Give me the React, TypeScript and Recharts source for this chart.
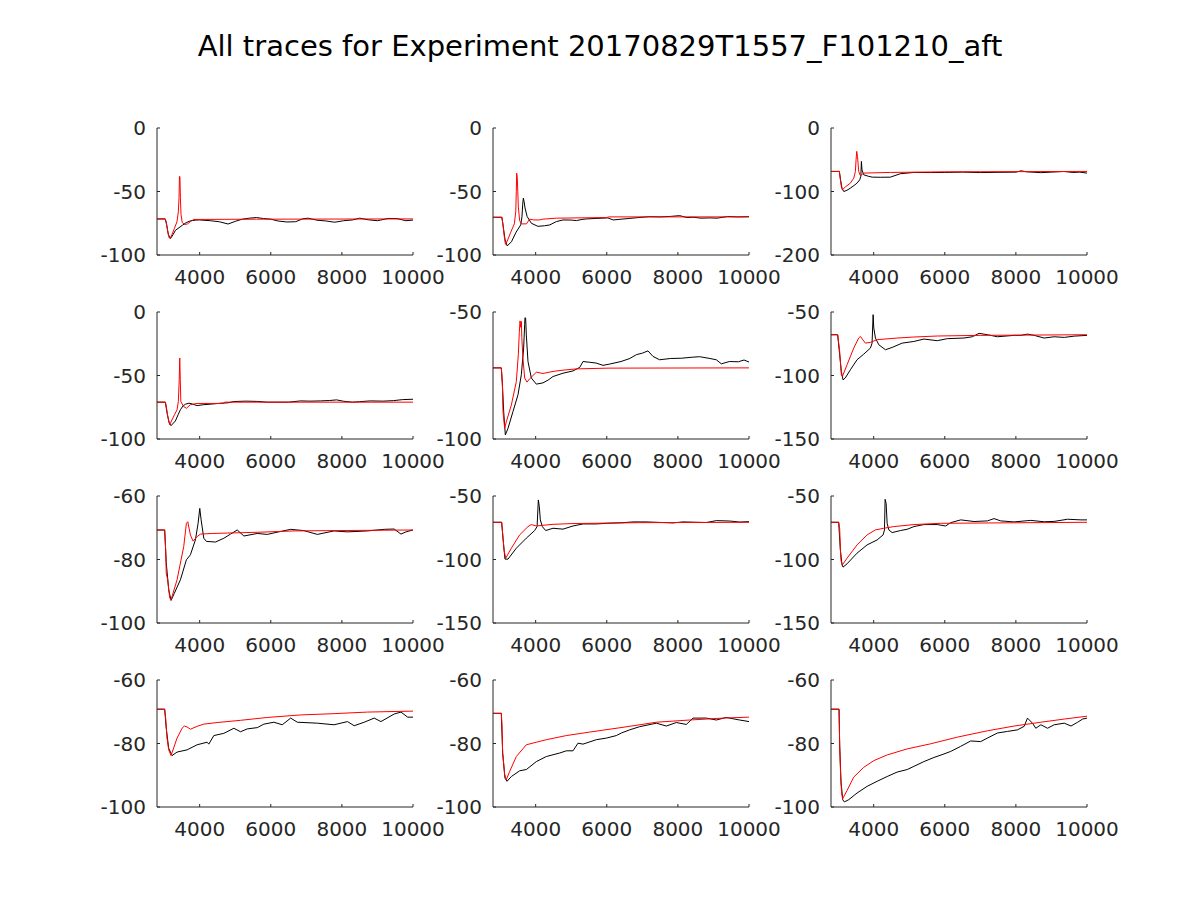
import { LineChart, Line, XAxis, YAxis } from "recharts";

const FONT = "'DejaVu Sans', sans-serif";
const INK = "#262626";
const TICK_FONT = 20;

// plot geometry (matches the 4x3 subplot grid)
const PLOT_W = 256;
const PLOT_H = 127;
const AXIS_W = 70;
const TOP = 24;
const RIGHT = 40;
const XAXIS_H = 40;
const COL_LEFT = [157, 493, 831];
const ROW_TOP = [128, 312, 496, 680];

const TITLE = "All traces for Experiment 20170829T1557_F101210_aft";

const xDomain: [number, number] = [2800, 10000];
const xTicks = [4000, 6000, 8000, 10000];

const yTicks0to100 = [-100, -50, 0];
const yTicks0to200 = [-200, -100, 0];
const yTicks50to100 = [-100, -50];
const yTicks50to150 = [-150, -100, -50];
const yTicks60to100 = [-100, -80, -60];

// recorded (black) and model (red) traces, [time, mV]
const rec1 = [[2800,-71.6],[3030,-71.6],[3070,-76],[3120,-84],[3180,-87],[3250,-84],[3320,-80.5],[3420,-78.5],[3520,-76.5],[3620,-74.5],[3750,-73],[3900,-72.5],[4000,-72.4],[4300,-73],[4550,-73.8],[4800,-75.6],[5000,-73.5],[5200,-71.8],[5400,-71],[5600,-70.5],[5800,-71.3],[6000,-71.8],[6200,-73.2],[6450,-74],[6700,-73.8],[6900,-71.5],[7050,-71],[7300,-72.6],[7550,-73.2],[7800,-74.2],[8050,-73],[8300,-72.4],[8500,-71],[8750,-72.3],[9000,-73],[9300,-71.2],[9550,-71.3],[9800,-73],[10000,-72.5]];
const fit1 = [[2800,-71.6],[3030,-71.6],[3060,-74],[3100,-81],[3140,-86.5],[3170,-86.8],[3220,-84],[3290,-79],[3360,-74],[3400,-66],[3420,-55],[3432,-38],[3445,-38.5],[3458,-55],[3475,-68],[3510,-74.5],[3580,-76],[3660,-75.5],[3750,-73.5],[3840,-72],[5600,-71.8],[10000,-71.6]];

const rec2 = [[2800,-70.3],[3050,-70.3],[3090,-78],[3140,-88],[3200,-92.9],[3320,-89.5],[3450,-82],[3580,-76.3],[3615,-70],[3635,-60],[3653,-55.3],[3675,-58],[3700,-63],[3760,-69.7],[3880,-75],[4060,-77.4],[4250,-77],[4400,-76.3],[4580,-73.7],[4770,-72.4],[5000,-72.5],[5150,-72.9],[5300,-72],[5430,-71.6],[5700,-71.2],[6030,-70.8],[6180,-72.4],[6400,-71.8],[6600,-71.3],[6900,-70.5],[7200,-69.8],[7500,-70],[7800,-69.6],[8050,-69],[8250,-70.5],[8450,-70.3],[8650,-71],[8900,-70.8],[9100,-71],[9400,-69.7],[9700,-70],[10000,-69.8]];
const fit2 = [[2800,-70.3],[3050,-70.3],[3080,-76],[3110,-84],[3150,-91.6],[3200,-89],[3300,-82],[3400,-75.5],[3440,-66],[3455,-50],[3466,-35.5],[3480,-38],[3495,-48],[3512,-62],[3550,-73],[3600,-75.5],[3740,-75.5],[3830,-71.8],[3950,-72.4],[4100,-72.4],[4200,-71.8],[4580,-71],[6000,-70.5],[6050,-70],[10000,-70]];

const rec3 = [[2800,-68.4],[3035,-68.4],[3070,-82],[3110,-95],[3160,-100],[3250,-98],[3345,-94.7],[3450,-90.5],[3533,-86.8],[3608,-81.6],[3640,-76],[3655,-52.6],[3672,-66],[3721,-73.7],[3850,-76],[3960,-77.4],[4200,-77.6],[4470,-77.4],[4750,-72],[5130,-70],[5600,-70.2],[6000,-70],[6500,-69.5],[7000,-70.2],[7500,-69.8],[8000,-69.5],[8150,-67.4],[8300,-69],[8700,-70.3],[9000,-69.5],[9350,-68.5],[9600,-70],[9800,-69.5],[10000,-71]];
const fit3 = [[2800,-68.4],[3035,-68.4],[3060,-80],[3090,-92],[3120,-97.4],[3200,-93],[3345,-86.8],[3440,-79],[3486,-68.4],[3505,-50],[3524,-36.8],[3545,-45],[3580,-68.4],[3627,-75],[3721,-71],[4470,-70],[5980,-69],[10000,-68.4]];

const rec4 = [[2800,-71],[3035,-71],[3080,-79],[3140,-87],[3195,-89.5],[3317,-85.8],[3400,-80.5],[3458,-77],[3530,-74],[3600,-72.6],[3700,-71.8],[3800,-72.5],[3928,-73.7],[4100,-73],[4300,-72.6],[4600,-71.8],[4800,-71.5],[4960,-70.5],[5300,-70.2],[5620,-70.4],[5900,-71],[6200,-71],[6500,-71],[6840,-70],[7100,-70.2],[7400,-70],[7650,-69.7],[7850,-69.2],[8050,-70.3],[8300,-71],[8500,-70.6],[8800,-70],[9150,-70.2],[9450,-69.8],[9700,-69],[10000,-68.7]];
const fit4 = [[2800,-71],[3035,-71],[3060,-74],[3100,-82],[3157,-88.9],[3220,-85],[3300,-80.5],[3364,-77],[3400,-70.5],[3425,-53.4],[3440,-36.3],[3455,-53.4],[3470,-70.5],[3552,-74.5],[3627,-75.8],[3740,-73],[3928,-72],[4680,-72],[4700,-71],[10000,-71]];

const rec5 = [[2800,-72],[3034,-72],[3070,-80],[3100,-89],[3147,-98.4],[3222,-95.8],[3362,-89.2],[3503,-82.6],[3597,-74.7],[3662,-64.2],[3690,-55],[3700,-52.2],[3718,-52.4],[3737,-59],[3784,-69.5],[3878,-76],[4019,-78.4],[4206,-77.9],[4350,-76.8],[4488,-75.4],[4769,-74.1],[5050,-73.2],[5240,-71.8],[5331,-69.5],[5520,-69.8],[5700,-70.1],[5894,-71],[6080,-70.5],[6400,-69.5],[6650,-68.3],[6831,-66.8],[7000,-66.2],[7159,-65.3],[7300,-67.5],[7487,-68.8],[7800,-68.3],[8100,-68.2],[8400,-67.8],[8612,-67.6],[8900,-68.3],[9080,-68.8],[9222,-70.4],[9450,-69.5],[9700,-69.6],[9860,-68.9],[10000,-69.7]];
const fit5 = [[2800,-72],[3034,-72],[3062,-77.4],[3081,-89.2],[3128,-95.8],[3175,-93.2],[3316,-86.6],[3456,-77.4],[3512,-66.8],[3540,-58],[3560,-53.5],[3580,-56],[3598,-53.7],[3610,-60],[3640,-68],[3691,-76],[3756,-77.6],[3831,-76.3],[4019,-73.7],[4206,-74.2],[4488,-73.4],[4769,-72.9],[5144,-72.4],[6034,-72.1],[10000,-72]];

const rec6 = [[2800,-67.9],[2988,-67.9],[3044,-83.7],[3091,-96.8],[3138,-103.4],[3200,-102],[3345,-95.5],[3533,-87.6],[3721,-83.2],[3909,-78.4],[3955,-74.5],[3985,-52.1],[4003,-62.6],[4050,-70.5],[4144,-75.8],[4332,-79.7],[4520,-77.9],[4802,-74.5],[5130,-73.2],[5413,-71.3],[5789,-72.6],[6071,-71],[6540,-70.5],[6775,-69.5],[6964,-66.8],[7200,-67.9],[7480,-69.5],[7950,-68.4],[8140,-68.4],[8326,-67.4],[8514,-68.4],[8795,-70.5],[9077,-69.5],[9360,-70],[9640,-69],[10000,-68.4]];
const fit6 = [[2800,-67.9],[2988,-67.9],[3044,-81],[3091,-99.5],[3120,-100.8],[3251,-91.6],[3439,-78.4],[3580,-70.5],[3627,-69.2],[3680,-71.3],[3768,-74.5],[3910,-73.9],[4097,-71.8],[4661,-70.5],[5130,-69.7],[5790,-68.9],[7010,-68.4],[10000,-67.9]];

const rec7 = [[2800,-70.7],[3016,-70.7],[3060,-81],[3129,-89.5],[3195,-92.9],[3289,-90.6],[3458,-86.4],[3627,-80.1],[3740,-78.5],[3881,-73.8],[3956,-68.6],[4003,-63.9],[4041,-67.5],[4116,-73.3],[4190,-74.3],[4445,-74.5],[4680,-73.3],[4868,-72],[5056,-70.7],[5244,-72.6],[5620,-71.8],[5900,-72.1],[6180,-71.4],[6560,-70.5],[6930,-70.9],[7310,-72.1],[7780,-71],[8150,-71.3],[8720,-71],[9190,-70.5],[9470,-70.4],[9662,-72],[9800,-71.3],[10000,-70.7]];
const fit7 = [[2800,-70.7],[3016,-70.7],[3044,-77],[3060,-84.3],[3101,-86.4],[3157,-92.1],[3195,-92.7],[3364,-86.4],[3552,-75.9],[3627,-68.6],[3665,-68.1],[3740,-72.3],[3815,-74.2],[3928,-72.8],[4022,-72],[4350,-71.8],[5700,-71.4],[6653,-71],[10000,-70.7]];

const rec8 = [[2800,-70.7],[3044,-70.7],[3080,-83.2],[3137,-99.7],[3222,-99.7],[3456,-91.1],[3737,-83.2],[3972,-77.2],[4040,-74.1],[4075,-53.1],[4103,-58.4],[4131,-68.8],[4188,-74.1],[4281,-77.2],[4488,-75.4],[4769,-76.1],[5050,-73.6],[5331,-72],[5706,-72],[5988,-71.5],[6456,-71],[6737,-70.4],[7112,-70.4],[7862,-71.2],[8143,-70.4],[8800,-70.9],[9081,-69.4],[9456,-69.7],[9737,-70.5],[10000,-70.2]];
const fit8 = [[2800,-70.7],[3044,-70.7],[3080,-81.9],[3110,-92.4],[3156,-99],[3316,-91.1],[3550,-80.6],[3784,-74.1],[3878,-72.5],[4019,-73.6],[4488,-72.3],[5050,-71.7],[6925,-71],[10000,-70.7]];

const rec9 = [[2800,-70.7],[3016,-70.7],[3063,-92.4],[3110,-104.2],[3138,-106],[3251,-103.4],[3533,-95],[3815,-88.5],[4097,-84.6],[4266,-80.6],[4304,-76.7],[4322,-52.6],[4350,-55.8],[4379,-71.5],[4426,-76.7],[4520,-78.8],[4755,-77.2],[4943,-76.2],[5131,-74.1],[5413,-72.5],[5789,-72.5],[6026,-73.6],[6167,-71],[6449,-68.8],[6825,-70.1],[7200,-69.6],[7385,-67.8],[7573,-69.6],[7950,-70.4],[8420,-69.2],[8795,-70.3],[9077,-70],[9453,-68.3],[9830,-68.8],[10000,-68.8]];
const fit9 = [[2800,-70.7],[3016,-70.7],[3044,-75.4],[3063,-91.1],[3082,-101],[3120,-104.2],[3251,-99],[3533,-88.5],[3815,-80.6],[4050,-76.7],[4285,-75.4],[4567,-74.1],[5131,-72.5],[5883,-71.5],[10000,-70.7]];

const rec10 = [[2800,-69.2],[3016,-69.2],[3060,-75.2],[3129,-81.5],[3223,-83.8],[3364,-82.7],[3646,-82],[3928,-80.4],[4210,-79.6],[4257,-80.2],[4398,-77.5],[4680,-76.8],[4962,-75.2],[5150,-76.3],[5338,-75.4],[5620,-75],[5806,-73.9],[6088,-73.3],[6323,-74.1],[6560,-72],[6747,-73.3],[7310,-73.6],[7780,-74.1],[8157,-73.1],[8345,-74.4],[8627,-73.3],[8909,-72],[9097,-73.1],[9473,-70.7],[9662,-70.1],[9850,-71.7],[10000,-71.7]];
const fit10 = [[2800,-69.2],[3016,-69.2],[3044,-72],[3082,-78.3],[3129,-82],[3195,-83.8],[3364,-78.3],[3505,-75.2],[3570,-74.5],[3646,-74.8],[3740,-75.5],[3928,-74.6],[4116,-73.9],[4492,-73.4],[5150,-72.7],[5900,-71.8],[6841,-71],[7780,-70.6],[8721,-70.1],[10000,-69.8]];

const rec11 = [[2800,-70.5],[3034,-70.5],[3072,-83],[3137,-90.9],[3194,-91.9],[3316,-90.4],[3550,-88.6],[3737,-88.2],[4019,-85.7],[4300,-84.1],[4675,-83],[4863,-82.3],[5050,-82.3],[5191,-79.9],[5331,-80.2],[5706,-78.8],[5988,-78.3],[6269,-77.5],[6409,-76.7],[6644,-75.7],[6925,-74.7],[7394,-73.6],[7675,-74.5],[7956,-73.4],[8237,-74],[8425,-72],[8800,-72],[9081,-72.6],[9362,-71.8],[9737,-72.6],[10000,-73.1]];
const fit11 = [[2800,-70.5],[3034,-70.5],[3053,-74.1],[3072,-83],[3128,-89.8],[3175,-91.4],[3269,-88.8],[3456,-84.1],[3737,-80.4],[4019,-79.6],[4300,-78.8],[4863,-77.5],[5519,-76.4],[6456,-74.9],[7394,-73.3],[8331,-72.6],[9269,-72],[10000,-71.7]];

const rec12 = [[2800,-69.2],[3026,-69.2],[3045,-81],[3082,-92],[3129,-97.7],[3176,-98.4],[3298,-97.7],[3533,-95.6],[3815,-93.5],[4097,-91.9],[4379,-90.4],[4661,-89],[4943,-88.2],[5131,-87.2],[5413,-85.7],[5695,-84.4],[5977,-83.3],[6165,-82.5],[6447,-80.9],[6730,-79.2],[7010,-79.4],[7198,-78.3],[7480,-76.7],[7762,-76.2],[8045,-75.7],[8232,-74.6],[8326,-72],[8467,-73.6],[8560,-75.2],[8702,-74.1],[8890,-75.2],[9077,-74.1],[9360,-73.6],[9550,-74.5],[9737,-73.3],[9877,-72.3],[10000,-72]];
const fit12 = [[2800,-69.2],[3026,-69.2],[3045,-80.6],[3073,-91.1],[3100,-95.8],[3129,-97.4],[3251,-94.8],[3439,-90.6],[3721,-87.5],[4003,-85.4],[4379,-83.6],[4943,-81.7],[5601,-80.1],[6353,-78],[7198,-76],[7950,-74.5],[8702,-73.3],[9360,-72.3],[10000,-71.4]];

const panels = [
  { rec: rec1, fit: fit1, yTicks: yTicks0to100 },
  { rec: rec2, fit: fit2, yTicks: yTicks0to100 },
  { rec: rec3, fit: fit3, yTicks: yTicks0to200 },
  { rec: rec4, fit: fit4, yTicks: yTicks0to100 },
  { rec: rec5, fit: fit5, yTicks: yTicks50to100 },
  { rec: rec6, fit: fit6, yTicks: yTicks50to150 },
  { rec: rec7, fit: fit7, yTicks: yTicks60to100 },
  { rec: rec8, fit: fit8, yTicks: yTicks50to150 },
  { rec: rec9, fit: fit9, yTicks: yTicks50to150 },
  { rec: rec10, fit: fit10, yTicks: yTicks60to100 },
  { rec: rec11, fit: fit11, yTicks: yTicks60to100 },
  { rec: rec12, fit: fit12, yTicks: yTicks60to100 },
];

const toRows = (pts: number[][]) => pts.map(([t, v]) => ({ t, v }));

// matlab-style ticks: short marks pointing into the plot
function XTick(props: any) {
  const { x, payload } = props;
  const base = TOP + PLOT_H;
  return (
    <g>
      <line x1={x} x2={x} y1={base} y2={base - 3} stroke={INK} />
      <text
        x={x}
        y={base + 14 + TICK_FONT * 0.73}
        textAnchor="middle"
        fill={INK}
        fontSize={TICK_FONT}
        fontFamily={FONT}
      >
        {payload.value}
      </text>
    </g>
  );
}

function YTick(props: any) {
  const { y, payload } = props;
  return (
    <g>
      <line x1={AXIS_W} x2={AXIS_W + 3} y1={y} y2={y} stroke={INK} />
      <text
        x={AXIS_W - 11}
        y={y}
        dy="0.36em"
        textAnchor="end"
        fill={INK}
        fontSize={TICK_FONT}
        fontFamily={FONT}
      >
        {payload.value}
      </text>
    </g>
  );
}

function Panel({ index }: { index: number }) {
  const p = panels[index];
  const row = Math.floor(index / 3);
  const col = index % 3;
  const yTicks = p.yTicks;
  return (
    <div
      style={{
        position: "absolute",
        left: COL_LEFT[col] - AXIS_W,
        top: ROW_TOP[row] - TOP,
      }}
    >
      <LineChart
        width={AXIS_W + PLOT_W + RIGHT}
        height={TOP + PLOT_H + XAXIS_H}
        margin={{ top: TOP, right: RIGHT, bottom: 0, left: 0 }}
      >
        <XAxis
          dataKey="t"
          type="number"
          domain={xDomain}
          ticks={xTicks}
          interval={0}
          allowDataOverflow
          height={XAXIS_H}
          tickLine={false}
          axisLine={{ stroke: INK }}
          tick={<XTick />}
        />
        <YAxis
          type="number"
          domain={[yTicks[0], yTicks[yTicks.length - 1]]}
          ticks={yTicks}
          interval={0}
          allowDataOverflow
          width={AXIS_W}
          tickLine={false}
          axisLine={{ stroke: INK }}
          tick={<YTick />}
        />
        <Line
          data={toRows(p.rec)}
          dataKey="v"
          stroke="#000000"
          strokeWidth={1}
          dot={false}
          type="linear"
          isAnimationActive={false}
        />
        <Line
          data={toRows(p.fit)}
          dataKey="v"
          stroke="#ff0000"
          strokeWidth={1}
          dot={false}
          type="linear"
          isAnimationActive={false}
        />
      </LineChart>
    </div>
  );
}

export default function App() {
  return (
    <div
      style={{
        position: "absolute",
        left: 0,
        top: 0,
        width: 1200,
        height: 900,
        background: "#ffffff",
        overflow: "hidden",
      }}
    >
      <svg width={1200} height={90} style={{ position: "absolute", left: 0, top: 0 }}>
        <text x={600} y={56} textAnchor="middle" fontSize={29} fontFamily={FONT} fill="#000000">
          {TITLE}
        </text>
      </svg>
      {panels.map((_, i) => (
        <Panel key={i} index={i} />
      ))}
    </div>
  );
}
